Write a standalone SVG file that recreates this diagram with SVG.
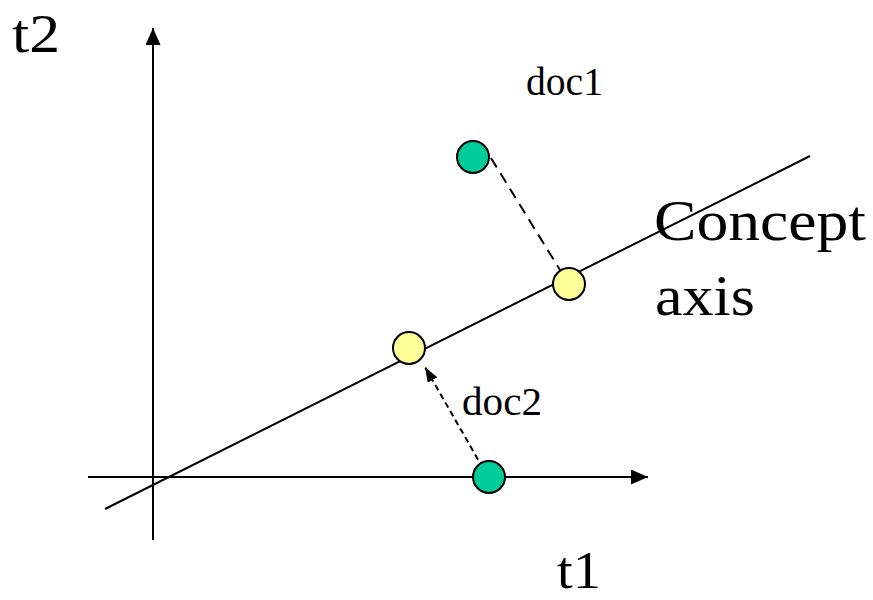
<svg xmlns="http://www.w3.org/2000/svg" width="873" height="600" viewBox="0 0 873 600">
<style>
.ax{stroke:#000;stroke-width:2;fill:none}
.dash1{stroke:#000;stroke-width:2;stroke-dasharray:11 7;fill:none}
.dash2{stroke:#000;stroke-width:2;stroke-dasharray:6 4;fill:none}
.g{fill:#00CC99;stroke:#000;stroke-width:2}
.y{fill:#FFFF99;stroke:#000;stroke-width:2}
.lbl{fill:#000;font-family:"Liberation Serif","DejaVu Serif",Tinos,"Noto Serif","Times New Roman",Times,serif}
</style>
<defs>
<marker id="ah" viewBox="0 0 17 15" refX="17" refY="7.5" markerWidth="17" markerHeight="15" markerUnits="userSpaceOnUse" orient="auto">
<path d="M0,0 L17,7.5 L0,15 Z" fill="#000"/>
</marker>
<marker id="ah2" viewBox="0 0 15 11" refX="15" refY="5.5" markerWidth="15" markerHeight="11" markerUnits="userSpaceOnUse" orient="auto">
<path d="M0,0 L15,5.5 L0,11 Z" fill="#000"/>
</marker>
</defs>
<g id="connectors">
<line id="t2-axis" class="ax" x1="153" y1="540" x2="153" y2="28" marker-end="url(#ah)"/>
<line id="t1-axis" class="ax" x1="88" y1="477" x2="648" y2="477" marker-end="url(#ah)"/>
<line id="concept-axis" class="ax" x1="105" y1="509" x2="810" y2="156"/>
<line id="proj1" class="dash1" x1="491" y1="158" x2="560" y2="270"/>
<line id="proj2" class="dash2" x1="488" y1="477" x2="425" y2="367" marker-end="url(#ah2)"/>
</g>
<g id="doc1-point"><circle class="g" cx="473" cy="157" r="16"/></g>
<g id="doc1-proj"><circle class="y" cx="569" cy="284" r="16"/></g>
<g id="doc2-proj"><circle class="y" cx="409" cy="348" r="16"/></g>
<g id="doc2-point"><circle class="g" cx="489" cy="477" r="16"/></g>
<g id="labels">
<text class="lbl" x="12" y="52" font-size="54" textLength="48" lengthAdjust="spacingAndGlyphs">t2</text>
<text class="lbl" x="557" y="588" font-size="52" textLength="44" lengthAdjust="spacingAndGlyphs">t1</text>
<text class="lbl" x="654" y="240" font-size="57" textLength="212" lengthAdjust="spacingAndGlyphs">Concept</text>
<text class="lbl" x="655" y="315" font-size="57" textLength="100" lengthAdjust="spacingAndGlyphs">axis</text>
<text class="lbl" x="526" y="95" font-size="40" textLength="77" lengthAdjust="spacingAndGlyphs">doc1</text>
<text class="lbl" x="462" y="415" font-size="40" textLength="80" lengthAdjust="spacingAndGlyphs">doc2</text>
</g>
</svg>
